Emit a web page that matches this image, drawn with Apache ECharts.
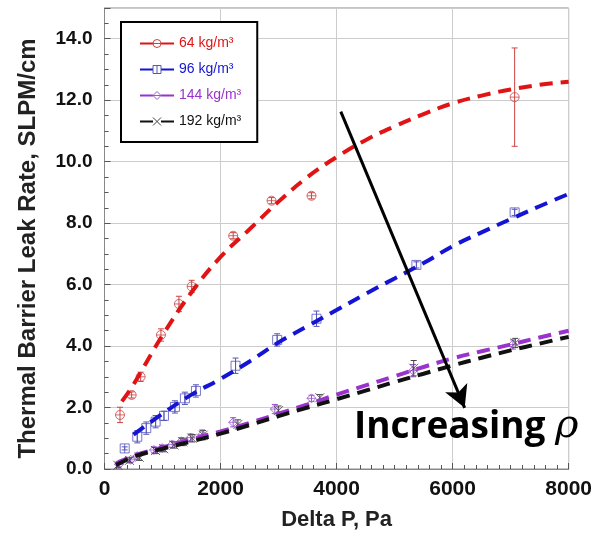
<!DOCTYPE html>
<html>
<head>
<meta charset="utf-8">
<script src="https://cdn.jsdelivr.net/npm/echarts@6/dist/echarts.min.js"></script>
<style>
  html, body { margin: 0; padding: 0; background: #fff; }
  #main { width: 595px; height: 539px; }
</style>
</head>
<body>
<div id="main"></div>
<script>
// 拟合曲线的横坐标 (Pa)
var curveX = [200, 300, 500, 1000, 1500, 2000, 2500, 3000, 3500, 4000, 4500, 5000, 5500, 6000, 6500, 7000, 7500, 8000];
// 拟合曲线 (SLPM/cm)
var fit64  = [null, 2.2, 2.75, 4.35, 5.75, 6.9, 7.8, 8.7, 9.5, 10.15, 10.7, 11.15, 11.55, 11.9, 12.15, 12.35, 12.5, 12.6];
var fit96  = [null, null, 1.12, 1.8, 2.42, 2.93, 3.5, 4.12, 4.65, 5.17, 5.7, 6.2, 6.7, 7.25, 7.7, 8.13, 8.55, 8.95];
var fit144 = [0.18, 0.27, 0.43, 0.7, 0.97, 1.22, 1.5, 1.8, 2.1, 2.42, 2.72, 3.02, 3.32, 3.6, 3.83, 4.05, 4.28, 4.5];
var fit192 = [0.13, 0.22, 0.4, 0.66, 0.9, 1.15, 1.43, 1.72, 2.0, 2.27, 2.55, 2.83, 3.1, 3.37, 3.62, 3.86, 4.08, 4.3];

// 实测点
var x64  = [267, 468, 623, 973, 1283, 1502, 2218, 2879, 3568, 7069];
var y64  = [1.76, 2.41, 3.0, 4.36, 5.37, 5.94, 7.59, 8.73, 8.89, 12.1];
var e64  = [0.25, 0.1, 0.15, 0.2, 0.25, 0.2, 0.1, 0.1, 0.1, 1.6];

var x96  = [348, 565, 720, 881, 1025, 1214, 1386, 1576, 2259, 2976, 3654, 5376, 7069];
var y96  = [0.67, 1.05, 1.33, 1.54, 1.73, 2.02, 2.3, 2.54, 3.36, 4.2, 4.89, 6.64, 8.35];
var e96  = [0.05, 0.2, 0.2, 0.2, 0.15, 0.2, 0.2, 0.2, 0.25, 0.2, 0.25, 0.1, 0.1];

var x144 = [250, 451, 565, 852, 995, 1168, 1323, 1484, 1684, 2218, 2936, 3568, 5318, 7040];
var y144 = [0.15, 0.3, 0.42, 0.62, 0.68, 0.8, 0.9, 1.02, 1.12, 1.52, 1.95, 2.3, 3.2, 4.05];
var e144 = [0.08, 0.08, 0.1, 0.1, 0.1, 0.1, 0.12, 0.12, 0.15, 0.15, 0.15, 0.1, 0.2, 0.15];

var x192 = [230, 430, 600, 880, 1020, 1200, 1350, 1510, 1700, 2300, 3000, 3711, 5330, 7080];
var y192 = [0.12, 0.28, 0.38, 0.6, 0.66, 0.78, 0.88, 1.0, 1.1, 1.45, 1.9, 2.32, 3.28, 4.1];
var e192 = [0.08, 0.08, 0.1, 0.1, 0.1, 0.1, 0.12, 0.12, 0.15, 0.15, 0.15, 0.1, 0.25, 0.15];

// 箭头起止点
var arrowFrom = [4073, 11.63];
var arrowTo   = [6208, 1.99];

var names = ['64 kg/m³', '96 kg/m³', '144 kg/m³', '192 kg/m³'];
var lineColors = ['#e01414', '#1414d2', '#9933cc', '#111111'];
var markColors = ['#cc4444', '#5555bb', '#9955cc', '#444444'];
var symbols = [
  'path://M0,10A10,10,0,1,1,20,10A10,10,0,1,1,0,10ZM0,10L20,10',
  'path://M0,0H20V20H0ZM10,0V20',
  'path://M10,0L20,10L10,20L0,10ZM0,10H20',
  'path://M0,0L20,20M20,0L0,20'
];

function pairs(xs, ys) {
  var out = [];
  for (var i = 0; i < xs.length; i++) {
    out.push([xs[i], ys[i]]);
  }
  return out;
}

function errData(xs, ys, es) {
  return xs.map(function (x, i) { return [x, ys[i] - es[i], ys[i] + es[i]]; });
}

var chart = echarts.init(document.getElementById('main'), null, { renderer: 'canvas' });

var fits = [fit64, fit96, fit144, fit192];
var pts = [[x64, y64, e64], [x96, y96, e96], [x144, y144, e144], [x192, y192, e192]];

var series = [];
// 曲线 (先放, legend 用它的图标)
fits.forEach(function (f, i) {
  series.push({
    name: names[i],
    type: 'line',
    smooth: 0.4,
    data: pairs(curveX, f),
    symbol: symbols[i],
    symbolSize: 9,
    showSymbol: false,
    lineStyle: { color: lineColors[i], width: 4, type: [13, 8] },
    itemStyle: { color: lineColors[i] },
    z: 3,
    silent: true
  });
});
// 误差棒
pts.forEach(function (p, i) {
  series.push({
    type: 'custom',
    data: errData(p[0], p[1], p[2]),
    renderItem: function (params, api) {
      var lo = api.coord([api.value(0), api.value(1)]);
      var hi = api.coord([api.value(0), api.value(2)]);
      var c = markColors[i];
      return {
        type: 'group',
        children: [
          { type: 'line', shape: { x1: lo[0], y1: lo[1], x2: hi[0], y2: hi[1] }, style: { stroke: c, lineWidth: 1 } },
          { type: 'line', shape: { x1: lo[0] - 3, y1: lo[1], x2: lo[0] + 3, y2: lo[1] }, style: { stroke: c, lineWidth: 1 } },
          { type: 'line', shape: { x1: hi[0] - 3, y1: hi[1], x2: hi[0] + 3, y2: hi[1] }, style: { stroke: c, lineWidth: 1 } }
        ]
      };
    },
    z: 2,
    silent: true
  });
});
// 实测点
pts.forEach(function (p, i) {
  series.push({
    type: 'scatter',
    data: pairs(p[0], p[1]),
    symbol: symbols[i],
    symbolSize: 9,
    itemStyle: { color: 'transparent', borderColor: markColors[i], borderWidth: 1 },
    z: 2,
    silent: true
  });
});
// 箭头
series.push({
  type: 'line',
  data: [],
  markLine: {
    silent: true,
    symbol: ['none', 'arrow'],
    symbolSize: [18, 22],
    label: { show: false },
    lineStyle: { color: '#000', width: 3, type: 'solid' },
    data: [[{ coord: arrowFrom }, { coord: arrowTo }]]
  },
  z: 5
});

var option;
option = {
  animation: false,
  backgroundColor: '#fff',
  grid: { left: 104.5, right: 26, top: 8, bottom: 70, show: true, borderColor: '#888', borderWidth: 1 },
  legend: {
    orient: 'vertical',
    left: 121,
    top: 22,
    padding: [14, 16, 13, 18],
    itemGap: 11,
    itemWidth: 34,
    itemHeight: 10,
    backgroundColor: '#fff',
    borderColor: '#000',
    borderWidth: 2,
    selectedMode: false,
    textStyle: { fontFamily: 'Liberation Sans', fontSize: 14, lineHeight: 15 },
    data: names.map(function (n, i) {
      return {
        name: n,
        textStyle: { color: lineColors[i] },
        itemStyle: { color: '#fff', borderColor: markColors[i], borderWidth: 1 }
      };
    })
  },
  xAxis: {
    type: 'value',
    min: 0,
    max: 8000,
    interval: 2000,
    name: 'Delta P, Pa',
    nameLocation: 'middle',
    nameGap: 40,
    nameTextStyle: { fontFamily: 'Liberation Sans', fontWeight: 'bold', fontSize: 22, color: '#222' },
    axisLine: { lineStyle: { color: '#888' } },
    axisTick: { inside: true, length: 6, lineStyle: { color: '#555' } },
    minorTick: { show: true, splitNumber: 10, length: 4, lineStyle: { color: '#555' } },
    splitLine: { show: true, lineStyle: { color: '#ccc' } },
    minorSplitLine: { show: false },
    axisLabel: {
      fontFamily: 'Liberation Sans', fontWeight: 'bold', fontSize: 21, color: '#111', margin: 10,
      formatter: function (v) { return String(v); }
    }
  },
  yAxis: {
    type: 'value',
    min: 0,
    max: 15,
    interval: 2,
    name: 'Thermal Barrier Leak Rate, SLPM/cm',
    nameLocation: 'middle',
    nameGap: 64,
    nameTextStyle: {
      fontFamily: 'Liberation Sans', fontWeight: 'bold', fontSize: 24, color: '#222',
      padding: [0, 20, 0, 0]
    },
    axisLine: { show: true, lineStyle: { color: '#888' } },
    axisTick: { inside: true, length: 6, lineStyle: { color: '#555' } },
    minorTick: { show: true, splitNumber: 4, length: 4, lineStyle: { color: '#555' } },
    splitLine: { show: true, lineStyle: { color: '#ccc' } },
    axisLabel: {
      fontFamily: 'Liberation Sans', fontWeight: 'bold', fontSize: 19, color: '#111', margin: 12,
      formatter: function (v) { return v > 14 ? '' : v.toFixed(1); }
    }
  },
  graphic: [{
    type: 'text',
    left: 354,
    top: 407,
    z: 10,
    style: {
      text: '{a|Increasing }{b|ρ}',
      rich: {
        a: { fontFamily: 'Open Sans', fontWeight: 'bold', fontSize: 37, fill: '#000' },
        b: { fontFamily: 'DejaVu Serif', fontStyle: 'italic', fontSize: 40, fill: '#000' }
      }
    }
  }],
  series: series
};

chart.setOption(option);
</script>
</body>
</html>
